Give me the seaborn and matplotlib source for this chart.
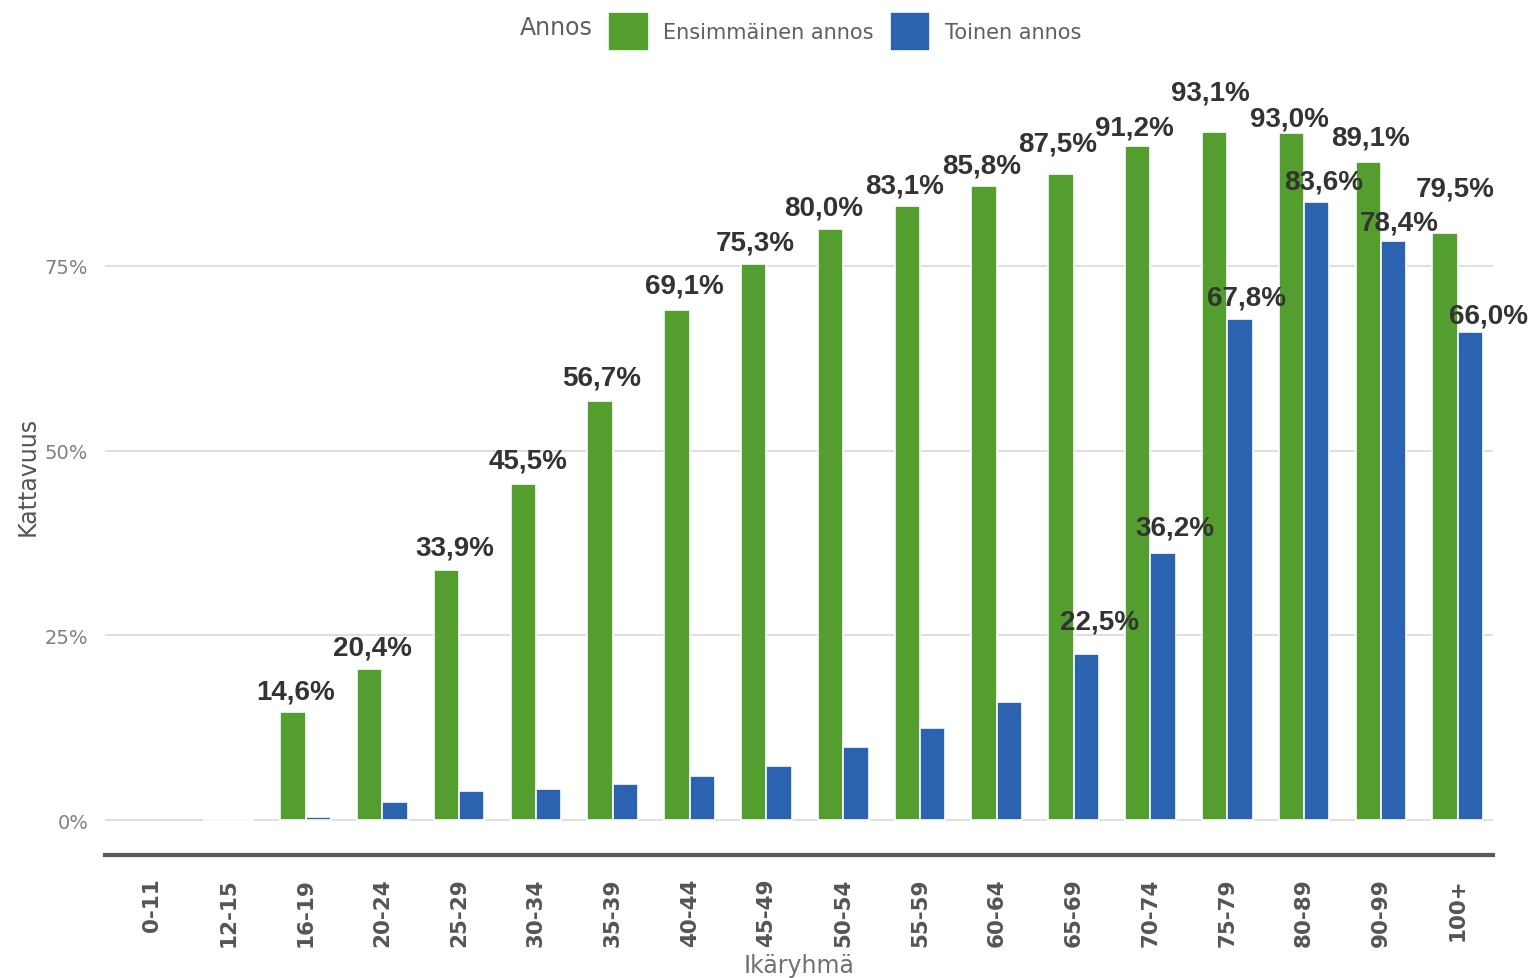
import numpy as np
import pandas as pd
import matplotlib
matplotlib.use("Agg")
import matplotlib.pyplot as plt
import seaborn as sns

# Data
age_groups = ['0-11', '12-15', '16-19', '20-24', '25-29', '30-34', '35-39', '40-44',
              '45-49', '50-54', '55-59', '60-64', '65-69', '70-74', '75-79', '80-89',
              '90-99', '100+']
first_dose = [np.nan, 0.0, 14.6, 20.4, 33.9, 45.5, 56.7, 69.1, 75.3, 80.0, 83.1, 85.8,
              87.5, 91.2, 93.1, 93.0, 89.1, 79.5]
second_dose = [np.nan, 0.0, 0.5, 2.4, 3.9, 4.2, 4.9, 6.0, 7.3, 9.9, 12.5, 16.0,
               22.5, 36.2, 67.8, 83.6, 78.4, 66.0]
dose_names = ['Ensimmäinen annos', 'Toinen annos']
colors = ['#539E2F', '#2C63B1']
y_ticks = [0, 25, 50, 75]

# label nudges in pixels (dx, dy) to keep labels from colliding
nudge = {
    (0, '16-19'): (3, 0), (0, '20-24'): (3, 1), (0, '25-29'): (8, 1), (0, '30-34'): (5, 2),
    (0, '35-39'): (2, 3), (0, '40-44'): (7, 3), (0, '45-49'): (2, 0), (0, '50-54'): (-7, 0),
    (0, '55-59'): (-3, 0), (0, '60-64'): (-3, 0), (0, '65-69'): (-3, 9),
    (0, '70-74'): (-3, -2), (0, '75-79'): (-4, 19), (0, '80-89'): (-2, -7),
    (0, '90-99'): (2, 3), (0, '100+'): (10, 23),
    (1, '65-69'): (13, 11), (1, '70-74'): (12, 4), (1, '75-79'): (7, 1),
    (1, '80-89'): (7, 0), (1, '90-99'): (6, -3), (1, '100+'): (18, -4),
}

df = pd.concat([
    pd.DataFrame({'Ikäryhmä': age_groups, 'Kattavuus': first_dose, 'Annos': dose_names[0]}),
    pd.DataFrame({'Ikäryhmä': age_groups, 'Kattavuus': second_dose, 'Annos': dose_names[1]}),
], ignore_index=True)

sns.set_style("white")
plt.rcParams['font.family'] = ['DejaVu Sans']

fig = plt.figure(figsize=(15.31, 9.79), dpi=100)
ax = fig.add_axes([0.0686, 0.1257, 0.9066, 0.813])

sns.barplot(data=df, x='Ikäryhmä', y='Kattavuus', hue='Annos', order=age_groups,
            hue_order=dose_names, palette=colors, saturation=1, width=0.66,
            edgecolor='white', linewidth=1.2, errorbar=None, ax=ax, zorder=3)

# Value labels (all first dose, second dose only when large)
half = 0.66 / 4
px = 72 / 100  # pixels -> points
for k, vals in enumerate([first_dose, second_dose]):
    for i, v in enumerate(vals):
        if np.isnan(v) or v <= 0 or (k == 1 and v < 20):
            continue
        dx, dy = nudge.get((k, age_groups[i]), (0, 0))
        ax.annotate(f"{v:.1f}%".replace('.', ','), xy=(i + (2 * k - 1) * half, v),
                    xytext=(dx * px, (21 + dy) * px), textcoords='offset points',
                    ha='center', va='center', fontsize=20, fontweight='bold',
                    color='#333333', family='Liberation Sans', zorder=5)

ax.set_xlim(-0.61, len(age_groups) - 1 + 0.46)
ax.set_ylim(-4.7, 103)
ax.set_yticks(y_ticks)
ax.set_yticklabels([f"{t}%" for t in y_ticks])
ax.yaxis.grid(True, color='#dcdcdc', linewidth=1.3)
ax.set_axisbelow(True)

for side in ['top', 'right', 'left']:
    ax.spines[side].set_visible(False)
ax.spines['bottom'].set_color('#5a5a5a')
ax.spines['bottom'].set_linewidth(3)

ax.tick_params(axis='y', length=0, labelsize=14, labelcolor='#808080', pad=12)
ax.tick_params(axis='x', length=6, width=2, color='#333333', labelsize=15.5,
               labelcolor='#555555', pad=10)
for lbl in ax.get_xticklabels():
    lbl.set_rotation(90)
    lbl.set_fontweight('bold')

ax.set_xlabel('Ikäryhmä', fontsize=17, color='#707070', labelpad=5)
ax.set_ylabel('Kattavuus', fontsize=17, color='#555555')
ax.yaxis.set_label_coords(-0.047, 0.477)

sns.move_legend(ax, 'upper left', bbox_to_anchor=(0.385, 1.006), bbox_transform=fig.transFigure,
                ncol=2, title=None, frameon=False, fontsize=15, handlelength=1.95,
                handleheight=2.5, handletextpad=0.7, columnspacing=0.75)
for t in ax.get_legend().get_texts():
    t.set_color('#606060')
fig.text(0.3632, 0.9715, 'Annos', fontsize=17, color='#606060', ha='center', va='center')

fig.savefig('out.png', dpi=100)
